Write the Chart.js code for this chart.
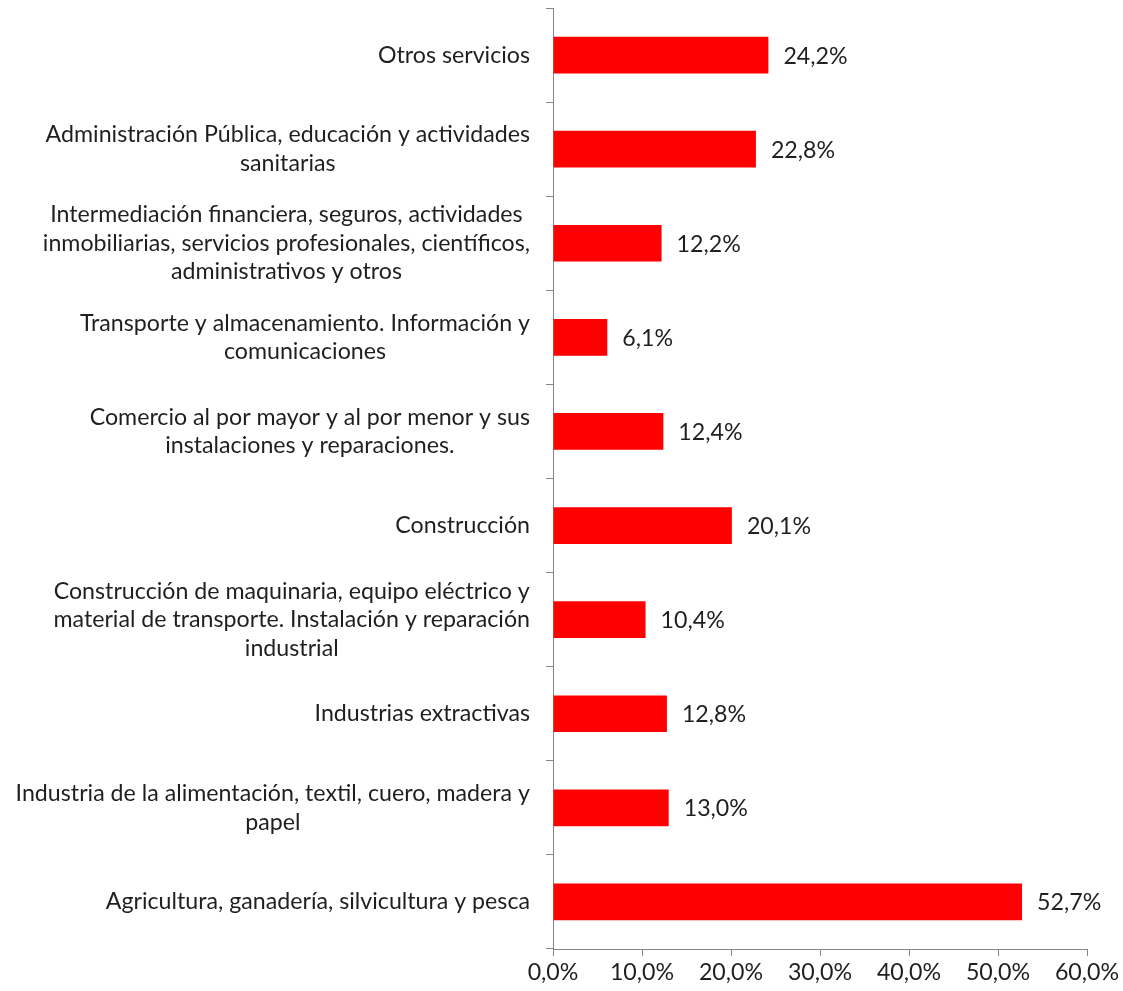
<!DOCTYPE html>
<html>
<head>
<meta charset="utf-8">
<script src="https://cdn.jsdelivr.net/npm/chart.js@4"></script>
<style>
  html, body { margin: 0; padding: 0; background: #fff; }
  #wrap { width: 1123px; height: 991px; }
</style>
</head>
<body>
<div id="wrap"><canvas id="myChart" width="1123" height="991"></canvas></div>
<script>
let sectores = [
  ["Otros servicios"],
  ["Administración Pública, educación y actividades", "sanitarias"],
  ["Intermediación financiera, seguros, actividades", "inmobiliarias, servicios profesionales, científicos,", "administrativos y otros"],
  ["Transporte y almacenamiento. Información y", "comunicaciones"],
  ["Comercio al por mayor y al por menor y sus", "instalaciones y reparaciones."],
  ["Construcción"],
  ["Construcción de maquinaria, equipo eléctrico y", "material de transporte. Instalación y reparación", "industrial"],
  ["Industrias extractivas"],
  ["Industria de la alimentación, textil, cuero, madera y", "papel"],
  ["Agricultura, ganadería, silvicultura y pesca"]
];
let valores = [24.2, 22.8, 12.2, 6.1, 12.4, 20.1, 10.4, 12.8, 13.0, 52.7];
let ticksX = [0, 10, 20, 30, 40, 50, 60];

let fuente = "Lato";
let tam = 23.2;
let colorTexto = "#1f1f1f";
let colorEje = "#868686";

let fmt = (v) => v.toFixed(1).replace(".", ",") + "%";

// etiquetas de valor al final de cada barra
let etiquetas = {
  id: "etiquetas",
  afterDatasetsDraw(chart) {
    let c = chart.ctx;
    let meta = chart.getDatasetMeta(0);
    c.save();
    c.font = tam + "px " + fuente;
    c.fillStyle = colorTexto;
    c.textAlign = "left";
    c.textBaseline = "middle";
    meta.data.forEach((bar, i) => {
      c.fillText(fmt(valores[i]), bar.x + 15, bar.y + 1);
    });
    c.restore();
  }
};

// categorias: bloque alineado a la derecha, lineas centradas
let categorias = {
  id: "categorias",
  afterDraw(chart) {
    let c = chart.ctx;
    let y = chart.scales.y;
    let interlinea = 28.5;
    c.save();
    c.font = tam + "px " + fuente;
    c.fillStyle = colorTexto;
    c.textAlign = "center";
    c.textBaseline = "middle";
    sectores.forEach((lineas, i) => {
      let yc = y.getPixelForValue(i);
      let ancho = Math.max(...lineas.map((l) => c.measureText(l).width));
      let xc = y.right - 23 - ancho / 2;
      let y0 = yc - (lineas.length - 1) * interlinea / 2;
      lineas.forEach((l, k) => {
        c.fillText(l, xc, y0 + k * interlinea);
      });
    });
    c.restore();
  }
};

var ctx = document.getElementById("myChart");
var chart = new Chart(ctx, {
  type: "bar",
  data: {
    labels: sectores,
    datasets: [
      {
        data: valores,
        backgroundColor: "#ff0000",
        borderWidth: 0,
        categoryPercentage: 1,
        barPercentage: 0.39
      }
    ]
  },
  plugins: [etiquetas, categorias],
  options: {
    indexAxis: "y",
    responsive: false,
    animation: false,
    layout: { padding: { top: 8, right: 36, left: 0, bottom: 0 } },
    plugins: {
      legend: { display: false },
      tooltip: { enabled: false }
    },
    scales: {
      x: {
        min: 0,
        max: 60,
        afterBuildTicks: (axis) => {
          axis.ticks = ticksX.map((v) => ({ value: v }));
        },
        afterFit: (axis) => {
          axis.height = 42;
          axis.paddingLeft = 0;
          axis.paddingRight = 0;
        },
        grid: {
          drawOnChartArea: false,
          drawTicks: true,
          tickLength: 7,
          color: colorEje
        },
        border: { color: colorEje, width: 1 },
        ticks: {
          color: colorTexto,
          font: { family: fuente, size: tam },
          padding: 3,
          maxRotation: 0,
          callback: (v) => fmt(v)
        }
      },
      y: {
        afterFit: (axis) => {
          axis.width = 553;
          axis.paddingTop = 0;
          axis.paddingBottom = 0;
        },
        grid: {
          drawOnChartArea: false,
          drawTicks: true,
          tickLength: 7,
          color: colorEje
        },
        border: { color: colorEje, width: 1 },
        ticks: {
          color: "rgba(0,0,0,0)",
          font: { family: fuente, size: tam },
          padding: 16
        }
      }
    }
  }
});
</script>
</body>
</html>
